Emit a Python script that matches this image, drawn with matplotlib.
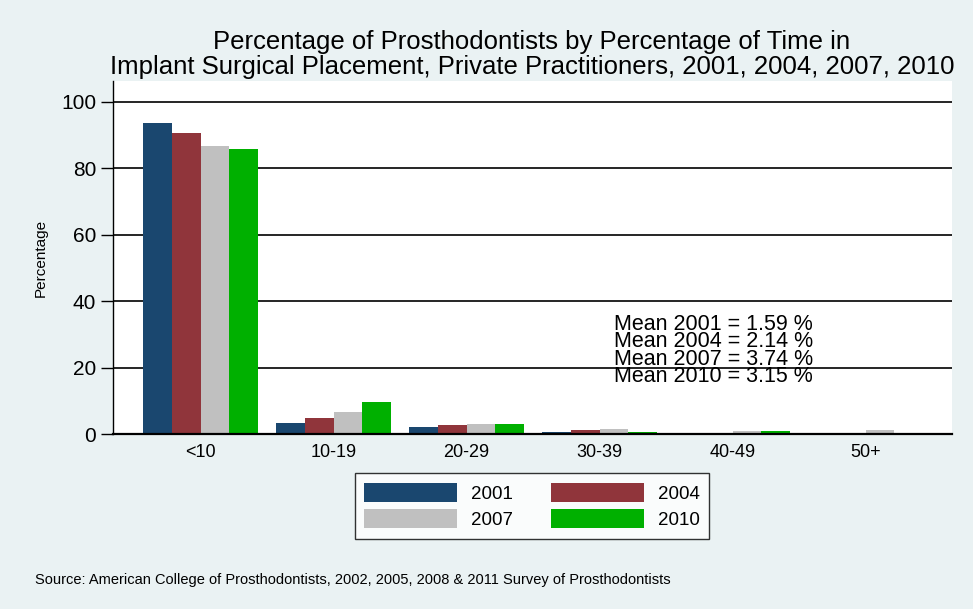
import matplotlib
matplotlib.use("Agg")
import matplotlib.pyplot as plt
import numpy as np
from matplotlib.patches import Patch

plt.rcParams['font.family'] = ['Liberation Sans', 'DejaVu Sans']

categories = ["<10", "10-19", "20-29", "30-39", "40-49", "50+"]
years = ["2001", "2004", "2007", "2010"]
v2001 = [93.7, 3.3, 2.0, 0.5, 0.1, 0.1]
v2004 = [90.7, 4.9, 2.6, 1.2, 0.3, 0.1]
v2007 = [86.8, 6.5, 2.9, 1.4, 0.8, 1.1]
v2010 = [85.9, 9.6, 3.1, 0.5, 0.9, 0.0]
series = [v2001, v2004, v2007, v2010]
colors = ["#1A476F", "#90353B", "#C0C0C0", "#00B000"]
mean_lines = ["Mean 2001 = 1.59 %", "Mean 2004 = 2.14 %",
              "Mean 2007 = 3.74 %", "Mean 2010 = 3.15 %"]
yticks = [0, 20, 40, 60, 80, 100]

W, H = 973, 609
bg = "#EAF2F3"
fig = plt.figure(figsize=(W / 100, H / 100), dpi=100, facecolor=bg)
ax = fig.add_axes([113 / W, 1 - 434 / H, (952 - 113) / W, (434 - 81) / H])
ax.set_facecolor("white")

x = np.arange(len(categories))
bw = 115 / 4 / 133
for i, (vals, c) in enumerate(zip(series, colors)):
    ax.bar(x + (i - 1.5) * bw, vals, width=bw, color=c, edgecolor='none', zorder=3)

ax.set_xlim(-0.658, 5.65)
ax.set_ylim(0, 106.3)
ax.set_yticks(yticks)
ax.set_yticklabels([str(t) for t in yticks], fontsize=15)
for t in yticks[1:]:
    ax.axhline(t, color="black", lw=1.2, zorder=1)
ax.set_xticks(x)
ax.set_xticklabels(categories, fontsize=13)
ax.tick_params(axis='x', length=0, pad=7)
ax.tick_params(axis='y', length=9, width=1, pad=3)
for s in ['top', 'right']:
    ax.spines[s].set_visible(False)
ax.spines['left'].set_linewidth(1)
ax.spines['bottom'].set_linewidth(1.6)
ax.spines['bottom'].set_zorder(4)
ax.set_ylabel("Percentage", fontsize=11, labelpad=10)

# Mean annotations: one tightly spaced multi-line text block, as in the reference
ax.text(3.11, 25.1, "\n".join(mean_lines), fontsize=15.5, va='center', ha='left',
        linespacing=0.78, zorder=5)

# Title
fig.text(532 / W, 1 - 42 / H, "Percentage of Prosthodontists by Percentage of Time in",
         fontsize=18.5, ha='center', va='center')
fig.text(532 / W, 1 - 67 / H,
         "Implant Surgical Placement, Private Practitioners, 2001, 2004, 2007, 2010",
         fontsize=18.5, ha='center', va='center')

# Legend (row-wise order: 2001, 2004 / 2007, 2010)
handles = [Patch(facecolor=c, edgecolor='none', label=y) for y, c in zip(years, colors)]
order = [0, 2, 1, 3]
leg = fig.legend(handles=[handles[k] for k in order], ncol=2, loc='center',
                 bbox_to_anchor=(532 / W, 1 - 506 / H), fontsize=13.5,
                 frameon=True, fancybox=False, edgecolor='black',
                 handlelength=4.96, handleheight=1.17, handletextpad=0.75,
                 columnspacing=2.0, labelspacing=0.37, borderpad=0.5,
                 borderaxespad=0)
leg.get_frame().set_linewidth(1)

fig.text(35 / W, 1 - 580 / H,
         "Source: American College of Prosthodontists, 2002, 2005, 2008 & 2011 Survey of Prosthodontists",
         fontsize=10.5, ha='left', va='center')

fig.savefig("out.png", dpi=100, facecolor=bg)
